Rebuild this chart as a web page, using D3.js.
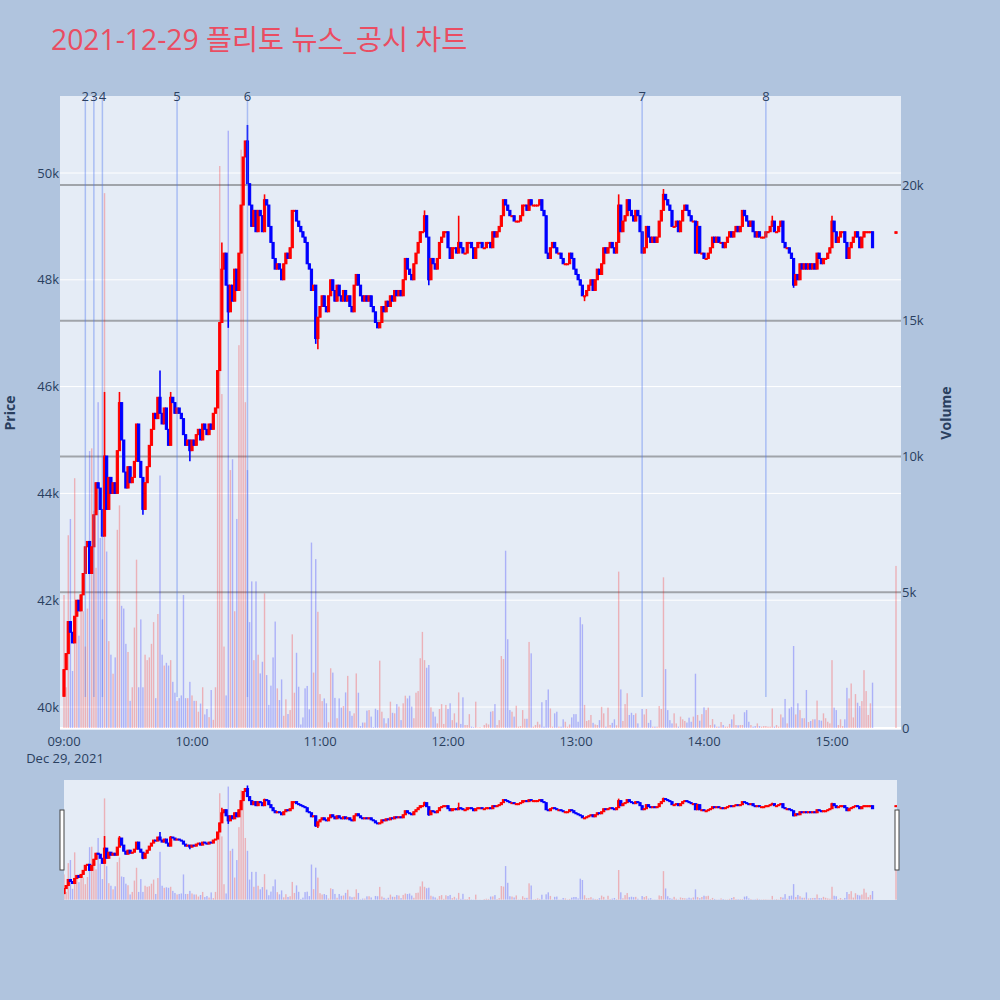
<!DOCTYPE html>
<html><head><meta charset="utf-8">
<script src="https://cdn.jsdelivr.net/npm/d3@7"></script>
<style>body{margin:0;background:#b0c4de;} svg{display:block}</style>
</head><body><svg id="c" width="1000" height="1000"></svg>
<script>
const chartTitle = "2021-12-29 플리토 뉴스_공시 차트";
const firstOpen = 40200;
// 1-minute closes from 09:00 to 15:19
const closes = [
40700,41000,41600,41400,41200,41700,42000,41800,42100,42500,
43000,43100,42500,43000,43600,44200,44100,43700,43200,44700,
43700,44300,44000,44200,44000,44800,45700,45000,44400,44100,
44500,44200,44300,44600,45300,44600,44300,43700,44200,44500,
44900,45200,45500,45400,45800,45500,45300,45600,45200,44900,
45800,45700,45500,45600,45500,45400,45100,44900,45000,44800,
45000,44900,45100,45200,45000,45300,45200,45100,45300,45200,
45500,45600,46300,47200,48200,48500,47900,47400,47900,47600,
48200,47800,48500,49400,50300,50600,49800,49400,49000,49300,
48900,49300,49200,48900,49500,49400,49000,48700,48400,48200,
48300,48200,48000,48300,48500,48400,48600,49300,49300,49100,
49000,48900,48800,48700,48300,48200,47800,47900,46900,47300,
47500,47700,47500,47400,47700,48000,47800,47600,47900,47700,
47600,47800,47600,47700,47500,47400,47900,48100,47900,47700,
47600,47700,47600,47700,47500,47400,47200,47100,47200,47500,
47400,47600,47500,47700,47600,47800,47700,47800,47700,48000,
48400,48200,48100,48000,48300,48500,48700,48900,48900,49200,
48800,48000,48400,48300,48200,48400,48700,48800,48900,48900,
48600,48400,48600,48600,48500,48700,48600,48500,48500,48700,
48700,48600,48400,48600,48700,48700,48600,48600,48700,48700,
48600,48900,48800,48900,49000,49200,49500,49400,49300,49200,
49200,49100,49100,49100,49200,49400,49400,49300,49500,49400,
49400,49400,49400,49500,49300,49200,48500,48400,48600,48700,
48600,48500,48500,48400,48300,48300,48300,48500,48400,48200,
48100,48000,47900,47700,47700,47800,47900,48000,47800,48000,
48200,48100,48300,48600,48500,48600,48700,48600,48500,48700,
49400,48900,49100,49200,49500,49300,49200,49100,49300,49200,
48900,48500,48600,49000,48800,48700,48800,48700,48800,49100,
49300,49600,49500,49400,49300,49000,49000,49100,48900,49100,
49300,49400,49300,49200,49100,49100,48500,49000,48500,48500,
48400,48400,48500,48600,48800,48700,48800,48700,48700,48600,
48700,48800,48900,48800,48900,49000,48900,49000,49300,49200,
49100,49000,49100,48900,48800,48900,48800,48800,48800,48900,
48900,49000,49100,48900,48900,49000,49100,48700,48600,48600,
48500,48400,47900,48100,48000,48300,48200,48300,48200,48300,
48200,48300,48200,48500,48400,48300,48400,48400,48500,48600,
49100,48900,48700,48800,48900,48900,48700,48400,48600,48700,
48800,48900,48800,48600,48800,48900,48900,48900,48900,48600];
const volumes = [
4900,1500,7100,7700,2100,9200,4200,3400,4500,4300,
3000,4400,10200,10300,8000,5900,12000,7000,4000,19700,
6500,3200,2700,2000,2600,7300,8200,4500,4400,3100,
2800,1000,1500,3700,6200,1500,4000,1500,2700,2500,
2600,3100,3900,1100,4200,9300,2700,2300,2400,2300,
2500,1700,1300,1000,1100,1200,4900,1100,1100,1700,
1200,1000,1000,600,900,1500,500,700,400,1400,
300,1500,12400,20700,12300,3000,1200,22000,9500,9900,
4300,7700,14100,21300,20900,12000,9500,3900,5400,2500,
5400,2700,2010,2440,4960,1950,850,1560,2600,3920,
1460,1030,1790,450,1055,515,660,3450,1300,2770,
1520,130,390,1460,1550,690,6830,2040,6220,4280,
1250,990,1090,910,210,2200,2040,1110,360,1090,
750,810,1310,1920,620,450,540,2010,1300,70,
200,200,640,660,420,30,710,660,2480,600,
360,170,360,970,560,540,880,790,290,910,
1190,1090,1190,790,360,1300,1360,2570,3540,2500,
2220,2320,760,600,420,170,700,880,150,850,
700,910,290,540,200,1310,150,1130,110,110,
510,50,30,970,20,30,10,110,170,130,
600,620,880,110,290,2650,2540,6530,3270,660,
600,420,820,50,70,660,340,340,3170,2750,
50,110,230,130,950,50,1030,1420,720,50,
540,600,50,50,320,230,50,130,390,510,
510,230,4080,3820,850,260,290,480,190,130,
110,290,780,540,50,750,110,190,320,100,
5760,1420,260,880,1280,480,560,480,540,170,
20,700,500,700,190,290,50,50,50,810,
700,5550,2170,660,290,170,540,170,50,420,
320,260,200,380,230,420,2000,480,270,510,
760,660,750,110,330,130,50,50,220,110,
50,50,150,320,500,110,100,110,110,580,
660,230,110,50,70,170,70,50,70,70,
50,50,720,50,110,50,500,390,1070,170,
720,780,3020,500,910,660,360,360,1400,220,
260,320,320,1010,290,270,540,360,230,170,
2500,750,660,110,320,70,320,1480,1090,1640,
390,1250,930,810,990,2130,1360,480,910,1670];
// wick extremes beyond the bodies (minute index -> price)
const highWicks = {19:45900, 26:45900, 45:46300, 50:45900, 74:48700, 86:50900, 94:49600, 169:49300, 185:49200, 260:49600, 281:49700, 297:49100, 332:49200, 360:49200};
const lowWicks = {37:43600, 59:44600, 77:47100, 118:46800, 119:46700, 147:47100, 171:47900, 244:47600, 342:47850};
const closingAuction = {time:[15,30], open:48870, close:48900, volume:5970};
const newsTimes = [[9,10],[9,14],[9,18],[9,53],[10,26],[13,31],[14,29]];
const newsLabels = ["2","3","4","5","6","7","8"];
const priceTicks = [40000,42000,44000,46000,48000,50000];
const volumeTicks = [0,5000,10000,15000,20000];
const hourTicks = [9,10,11,12,13,14,15];

const T = (h,m) => new Date(2021,11,29,h,m);
const candles = closes.map((c,i) => {
  const o = i === 0 ? firstOpen : closes[i-1];
  const h = Math.max(o, c, highWicks[i] || 0);
  const l = Math.min(o, c, lowWicks[i] || 1e9);
  return {t: T(9, i), o, c, h, l, v: volumes[i]};
});
candles.push({t: T(...closingAuction.time), o: closingAuction.open, c: closingAuction.close,
  h: closingAuction.close, l: closingAuction.open, v: closingAuction.volume});

const svg = d3.select("#c");
const FONT = "'Open Sans', 'Noto Sans', sans-serif";
const INK = "#2a3f5f";

const x = d3.scaleTime().domain([T(9,0), T(15,0)]).range([64, 832]);
const yP = d3.scaleLinear().domain([40000, 50000]).range([707, 173]);
const yV = d3.scaleLinear().domain([0, 20000]).range([728, 185]);

const plot = {x0: 60, x1: 901, y0: 96, y1: 730};

// title
svg.append("text").attr("x", 51).attr("y", 50).attr("fill", "#ea4d62")
  .attr("font-family", "'Open Sans','Noto Sans CJK KR',sans-serif").attr("font-size", 28.3)
  .text(chartTitle);

// main plot background
svg.append("rect").attr("x", plot.x0).attr("y", plot.y0).attr("width", plot.x1-plot.x0)
  .attr("height", plot.y1-plot.y0).attr("fill", "#e5ecf6");

const defs = svg.append("defs");
defs.append("clipPath").attr("id","clipMain").append("rect")
  .attr("x", plot.x0).attr("y", plot.y0).attr("width", plot.x1-plot.x0).attr("height", plot.y1-plot.y0);
defs.append("clipPath").attr("id","clipSlider").append("rect")
  .attr("x", 64).attr("y", 780).attr("width", 833).attr("height", 120);

// price gridlines (white)
svg.append("g").selectAll("line").data(priceTicks).join("line")
  .attr("x1", plot.x0).attr("x2", plot.x1).attr("y1", d => yP(d)).attr("y2", d => yP(d))
  .attr("stroke", "#fff").attr("stroke-width", 1);
// volume zero line
svg.append("line").attr("x1", plot.x0).attr("x2", plot.x1).attr("y1", yV(0)).attr("y2", yV(0))
  .attr("stroke", "#fff").attr("stroke-width", 2);
// volume gridlines (grey)
svg.append("g").selectAll("line").data(volumeTicks.slice(1)).join("line")
  .attr("x1", plot.x0).attr("x2", plot.x1).attr("y1", d => yV(d)).attr("y2", d => yV(d))
  .attr("stroke", "#a0a4aa").attr("stroke-width", 1.8);

function drawSeries(g, xs, yp, yv, bw, vw) {
  g.append("g").selectAll("rect").data(candles).join("rect")
    .attr("x", d => xs(d.t) - vw/2).attr("width", vw)
    .attr("y", d => yv(d.v)).attr("height", d => yv(0) - yv(d.v))
    .attr("fill", d => d.c >= d.o ? "rgba(255,0,0,0.25)" : "rgba(0,0,255,0.25)");
  const cg = g.append("g");
  cg.selectAll("line").data(candles).join("line")
    .attr("x1", d => xs(d.t)).attr("x2", d => xs(d.t))
    .attr("y1", d => yp(d.h)).attr("y2", d => yp(d.l))
    .attr("stroke", d => d.c >= d.o ? "#ff0000" : "#0000ff").attr("stroke-width", 1.6);
  cg.selectAll("rect").data(candles).join("rect")
    .attr("x", d => xs(d.t) - bw/2).attr("width", bw)
    .attr("y", d => yp(Math.max(d.o, d.c)))
    .attr("height", d => Math.max(1, yp(Math.min(d.o, d.c)) - yp(Math.max(d.o, d.c))))
    .attr("fill", d => d.c >= d.o ? "#ff0000" : "#0000ff")
    .attr("stroke", d => d.c >= d.o ? "#ff0000" : "#0000ff").attr("stroke-width", 1);
}

drawSeries(svg.append("g").attr("clip-path", "url(#clipMain)"), x, yP, yV, 2.2, 1.4);

// news markers
const ng = svg.append("g");
ng.selectAll("line").data(newsTimes).join("line")
  .attr("x1", d => x(T(...d))).attr("x2", d => x(T(...d)))
  .attr("y1", 97).attr("y2", 697)
  .attr("stroke", "rgba(80,120,240,0.4)").attr("stroke-width", 1.5);
ng.selectAll("text").data(newsTimes).join("text")
  .attr("x", d => x(T(...d))).attr("y", 101).attr("text-anchor", "middle")
  .attr("font-family", FONT).attr("font-size", 13).attr("fill", INK)
  .text((d,i) => newsLabels[i]);

// axis labels
const kfmt = d => d === 0 ? "0" : (d/1000) + "k";
svg.append("g").selectAll("text").data(priceTicks).join("text")
  .attr("x", 59).attr("y", d => yP(d) + 4.5).attr("text-anchor", "end")
  .attr("font-family", FONT).attr("font-size", 13).attr("fill", INK).text(kfmt);
svg.append("g").selectAll("text").data(volumeTicks).join("text")
  .attr("x", 902).attr("y", d => yV(d) + 4.5).attr("text-anchor", "start")
  .attr("font-family", FONT).attr("font-size", 13).attr("fill", INK).text(kfmt);
svg.append("g").selectAll("text").data(hourTicks).join("text")
  .attr("x", d => x(T(d,0))).attr("y", 746).attr("text-anchor", "middle")
  .attr("font-family", FONT).attr("font-size", 13).attr("fill", INK)
  .text(d => d3.timeFormat("%H:%M")(T(d,0)));
svg.append("text").attr("x", 65).attr("y", 763).attr("text-anchor", "middle")
  .attr("font-family", FONT).attr("font-size", 13).attr("fill", INK).text("Dec 29, 2021");
svg.append("text").attr("transform", "translate(15,413) rotate(-90)").attr("text-anchor", "middle")
  .attr("font-family", FONT).attr("font-size", 14).attr("font-weight", "bold").attr("fill", INK).text("Price");
svg.append("text").attr("transform", "translate(951,413) rotate(-90)").attr("text-anchor", "middle")
  .attr("font-family", FONT).attr("font-size", 14).attr("font-weight", "bold").attr("fill", INK).text("Volume");

// range slider
svg.append("rect").attr("x", 64).attr("y", 780).attr("width", 833).attr("height", 120).attr("fill", "#e5ecf6");
const sMap = y => 780 + (y - 96) * 120 / 634;
const yPs = d3.scaleLinear().domain([40000, 50000]).range([sMap(707), sMap(173)]);
const yVs = d3.scaleLinear().domain([0, 20000]).range([sMap(728), sMap(185)]);
drawSeries(svg.append("g").attr("clip-path", "url(#clipSlider)"), x, yPs, yVs, 2.2, 1.4);
[62, 897].forEach(hx => {
  svg.append("rect").attr("x", hx - 2).attr("y", 810).attr("width", 4).attr("height", 60)
    .attr("fill", "#fff").attr("stroke", "#444").attr("stroke-width", 1);
});
</script></body></html>
